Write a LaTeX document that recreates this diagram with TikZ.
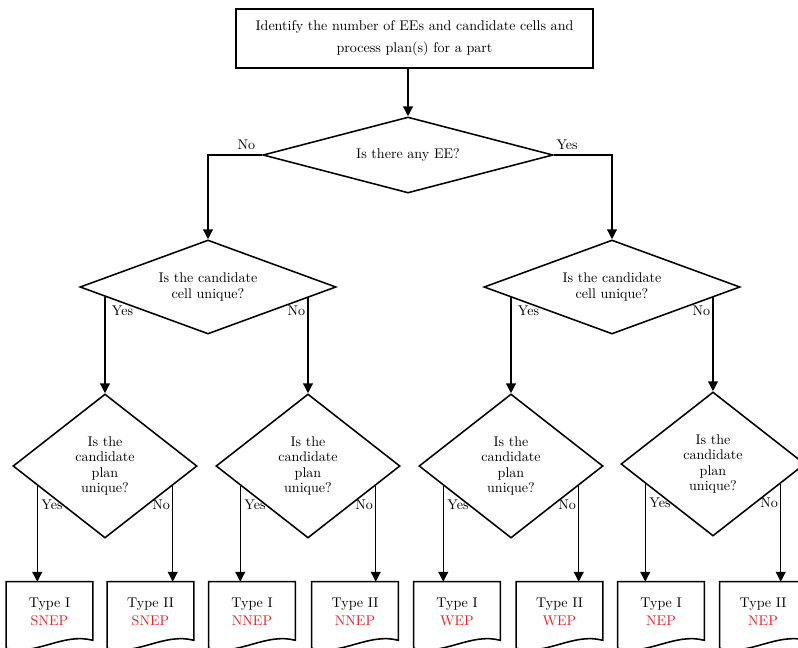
\documentclass[tikz,border=0pt]{standalone}
\usepackage{tikz}
\usetikzlibrary{shapes.geometric,arrows.meta,calc}

\definecolor{typered}{RGB}{232,30,40}

% outline of a document symbol round a named node
\newcommand{\docoutline}[1]{%
    \draw[line width=1.1pt] (#1.north west) -- (#1.north east)
        -- ($(#1.south east)+(0,-2)$)
        .. controls ($(#1.south east)+(-30,-10)$) and ($(#1.south west)+(30,14)$) ..
        ($(#1.south west)+(0,6)$) -- cycle;}

\begin{document}
\begin{tikzpicture}[
        x=0.025cm, y=-0.025cm,
        font=\fontsize{10}{10.8}\selectfont,
        startbox/.style={rectangle, draw, line width=1.1pt, minimum width=8.925cm, minimum height=1.475cm, align=center, font=\fontsize{10}{16}\selectfont},
        bigdec/.style={diamond, draw, line width=1.1pt, inner sep=0pt, aspect=3.8, minimum width=7.25cm, minimum height=1.9cm},
        middec/.style={diamond, draw, line width=1.1pt, inner sep=0pt, aspect=2.7, align=center, minimum width=6.4cm, minimum height=2.35cm},
        smalldec/.style={diamond, draw, line width=1.1pt, inner sep=0pt, aspect=1.28, align=center, minimum width=4.6cm, minimum height=3.6cm},
        docnode/.style={rectangle, inner sep=0pt, align=center, minimum width=2.15cm, minimum height=1.5cm, font=\fontsize{10}{12.8}\selectfont},
        flow/.style={-{Triangle[length=7pt,width=7pt]}, line width=0.9pt},
        answer/.style={inner sep=1.5pt}
    ]
    \clip (0,0) rectangle (798,647);

    \node (start) at (414.5,38.5) [startbox] {Identify the number of EEs and candidate cells and\\process plan(s) for a part};
    \node (q1) at (408,155) [bigdec] {Is there any EE?};

    \node (c1) at (208,287) [middec] {Is the candidate\\cell unique?};
    \node (c2) at (612,287) [middec] {Is the candidate\\cell unique?};

    \node (d1) at (105,466) [smalldec] {Is the\\candidate\\plan\\unique?};
    \node (d2) at (308,466) [smalldec] {Is the\\candidate\\plan\\unique?};
    \node (d3) at (511,466) [smalldec] {Is the\\candidate\\plan\\unique?};
    \node (d4) at (713,464) [smalldec] {Is the\\candidate\\plan\\unique?};

    \node (t1) at (49.5,612) [docnode] {Type I\\\textcolor{typered}{SNEP}};
    \node (t2) at (150.5,612) [docnode] {Type II\\\textcolor{typered}{SNEP}};
    \node (t3) at (252,612) [docnode] {Type I\\\textcolor{typered}{NNEP}};
    \node (t4) at (355,612) [docnode] {Type II\\\textcolor{typered}{NNEP}};
    \node (t5) at (457,612) [docnode] {Type I\\\textcolor{typered}{WEP}};
    \node (t6) at (559.5,612) [docnode] {Type II\\\textcolor{typered}{WEP}};
    \node (t7) at (661,612) [docnode] {Type I\\\textcolor{typered}{NEP}};
    \node (t8) at (763,612) [docnode] {Type II\\\textcolor{typered}{NEP}};
    \docoutline{t1} \docoutline{t2} \docoutline{t3} \docoutline{t4}
    \docoutline{t5} \docoutline{t6} \docoutline{t7} \docoutline{t8}

    % first question
    \draw[flow] (start.south -| q1.north) -- (q1.north);
    \draw[flow] (q1.west) node[answer, above left, xshift=-3pt, yshift=2pt] {No} -| (c1.north);
    \draw[flow] (q1.east) node[answer, above right, yshift=2pt] {Yes} -| (c2.north);

    % candidate cell
    \coordinate (c1yes) at ($(c1.west)!0.2!(c1.south)$);
    \coordinate (c1no) at ($(c1.east)!0.2!(c1.south)$);
    \coordinate (c2yes) at ($(c2.west)!0.2!(c2.south)$);
    \coordinate (c2no) at ($(c2.east)!0.2!(c2.south)$);
    \draw[flow] (d1.north |- c1yes) node[answer, below right, xshift=3pt, yshift=-5pt] {Yes} -- (d1.north);
    \draw[flow] (d2.north |- c1no) node[answer, below left, yshift=-5pt] {No} -- (d2.north);
    \draw[flow] (d3.north |- c2yes) node[answer, below right, xshift=3pt, yshift=-5pt] {Yes} -- (d3.north);
    \draw[flow] (d4.north |- c2no) node[answer, below left, yshift=-5pt] {No} -- (d4.north);

    % candidate plan
    \coordinate (d1yes) at ($(d1.west)!0.27!(d1.south)$);
    \coordinate (d1no) at ($(d1.east)!0.27!(d1.south)$);
    \coordinate (d2yes) at ($(d2.west)!0.27!(d2.south)$);
    \coordinate (d2no) at ($(d2.east)!0.27!(d2.south)$);
    \coordinate (d3yes) at ($(d3.west)!0.27!(d3.south)$);
    \coordinate (d3no) at ($(d3.east)!0.27!(d3.south)$);
    \coordinate (d4yes) at ($(d4.west)!0.27!(d4.south)$);
    \coordinate (d4no) at ($(d4.east)!0.27!(d4.south)$);
    \draw[flow] (d1yes) node[answer, below right, xshift=1pt, yshift=-8pt] {Yes} -- (d1yes |- t1.north);
    \draw[flow] (d1no) node[answer, below left, yshift=-8pt] {No} -- (d1no |- t2.north);
    \draw[flow] (d2yes) node[answer, below right, xshift=1pt, yshift=-8pt] {Yes} -- (d2yes |- t3.north);
    \draw[flow] (d2no) node[answer, below left, yshift=-8pt] {No} -- (d2no |- t4.north);
    \draw[flow] (d3yes) node[answer, below right, xshift=1pt, yshift=-8pt] {Yes} -- (d3yes |- t5.north);
    \draw[flow] (d3no) node[answer, below left, yshift=-8pt] {No} -- (d3no |- t6.north);
    \draw[flow] (d4yes) node[answer, below right, xshift=1pt, yshift=-8pt] {Yes} -- (d4yes |- t7.north);
    \draw[flow] (d4no) node[answer, below left, yshift=-8pt] {No} -- (d4no |- t8.north);
\end{tikzpicture}
\end{document}
